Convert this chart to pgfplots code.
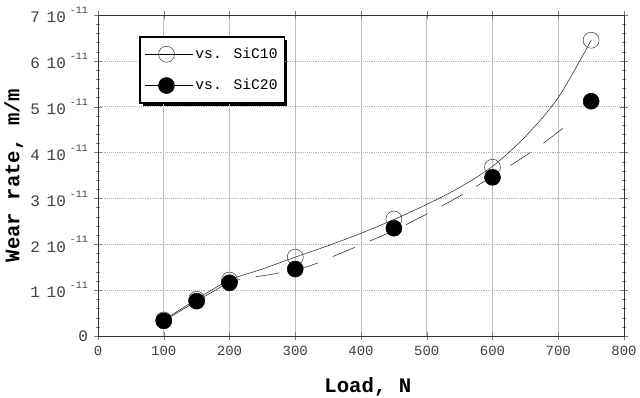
\documentclass[border=0pt]{standalone}
\usepackage{pgfplots}
\pgfplotsset{compat=1.18}
\usepackage{fontspec}
\setmainfont{Liberation Mono}
\usetikzlibrary{backgrounds}
\newcommand{\tl}[1]{#1\hspace{5pt}10\hspace{3pt}\raisebox{6.8pt}{\fontsize{7.5}{8}\selectfont -11}}
\pgfplotsset{
  legA/.style={legend image code/.code={\draw[gray, thin] (0pt,0pt)--(32pt,0pt);
    \draw[only marks,mark repeat=2,mark phase=2,##1] plot coordinates {(0pt,0pt) (16.5pt,0pt) (33pt,0pt)};
    \path (0pt,0pt) -- (36pt,0pt);}},
  legB/.style={legend image code/.code={\draw[gray, thin] (0pt,0pt)--(10pt,0pt);
    \draw[gray, thin] (31pt,0pt)--(32pt,0pt);
    \draw[only marks,mark repeat=2,mark phase=2,##1] plot coordinates {(0pt,0pt) (16.5pt,0pt) (33pt,0pt)};
    \path (0pt,0pt) -- (36pt,0pt);}},
}
\begin{document}
\begin{tikzpicture}
\begin{axis}[
  scale only axis,
  width=394.5pt, height=240.75pt,
  xmin=0, xmax=800, ymin=0, ymax=7,
  xtick={0,100,...,800},
  ytick={0,1,...,7},
  yticklabels={0,\tl{1},\tl{2},\tl{3},\tl{4},\tl{5},\tl{6},\tl{7}},
  /pgf/number format/assume math mode=true,
  minor y tick num=4,
  tick align=center,
  major tick length=6pt, minor tick length=3pt,
  xticklabel style={font=\fontsize{10.5}{11}\selectfont, text=black!75, yshift=-1pt},
  yticklabel style={font=\fontsize{12}{13}\selectfont, text=black!75, xshift=-1pt},
  xmajorgrids, ymajorgrids,
  x grid style={gray!50, thin},
  y grid style={gray!60, thin, densely dotted},
  axis line style={black!80},
  xlabel={\textbf{Load, N}},
  ylabel={\textbf{Wear rate, m/m}},
  label style={font=\fontsize{15.5}{16}\selectfont},
  xlabel style={at={(axis description cs:0.513,-0.159)}, anchor=center},
  ylabel style={at={(axis description cs:-0.160,0.5)}, anchor=center},
  legend style={at={(0.0798,0.9315)}, anchor=north west, draw=none, name=leg,
    fill=white, font=\fontsize{11}{12}\selectfont, row sep=10pt, inner xsep=3pt, inner ysep=6pt},
  legend cell align=left,
]
\coordinate (SW) at (rel axis cs:0,0);
\coordinate (NE) at (rel axis cs:1,1);
% fitted curves
\addplot[black!85, thin, smooth, forget plot] coordinates {
 (100,0.35) (150,0.8) (200,1.22) (250,1.46) (300,1.72) (350,1.97) (400,2.24) (450,2.54)
 (500,2.87) (550,3.24) (600,3.7) (650,4.35) (700,5.2) (750,6.45)};
\addplot[black!85, thin, smooth, forget plot] coordinates {
 (100,0.33) (150,0.76) (200,1.18)};
\addplot[black!85, thin, dash pattern=on 18pt off 12pt, dash phase=10pt, smooth, forget plot] coordinates {
 (200,1.18) (230,1.27) (270,1.36) (320,1.52) (360,1.75) (400,1.99) (450,2.3) (500,2.66)
 (550,3.05) (600,3.48) (650,3.93) (700,4.45) (720,4.7)};
% data
\addplot[only marks, mark=o, mark size=6pt, mark options={black!75, thin}, legA]
 coordinates {(100,0.35) (150,0.8) (200,1.22) (300,1.72) (450,2.55) (600,3.68) (750,6.45)};
\addlegendentry{vs. SiC10}
\addplot[only marks, mark=*, mark size=6pt, mark options={black, fill=black}, legB]
 coordinates {(100,0.33) (150,0.76) (200,1.16) (300,1.46) (450,2.35) (600,3.46) (750,5.12)};
\addlegendentry{vs. SiC20}
\end{axis}
\begin{scope}[on background layer]
\fill[black] ([xshift=2.2pt,yshift=-2.2pt]leg.south west) rectangle ([xshift=2.2pt,yshift=-2.2pt]leg.north east);
\end{scope}
\draw[line width=1.1pt] (leg.south west) rectangle (leg.north east);
\pgfresetboundingbox
\path[use as bounding box] ([xshift=-73.5pt,yshift=-46.5pt]SW) rectangle ([xshift=12pt,yshift=11.25pt]NE);
\end{tikzpicture}
\end{document}
